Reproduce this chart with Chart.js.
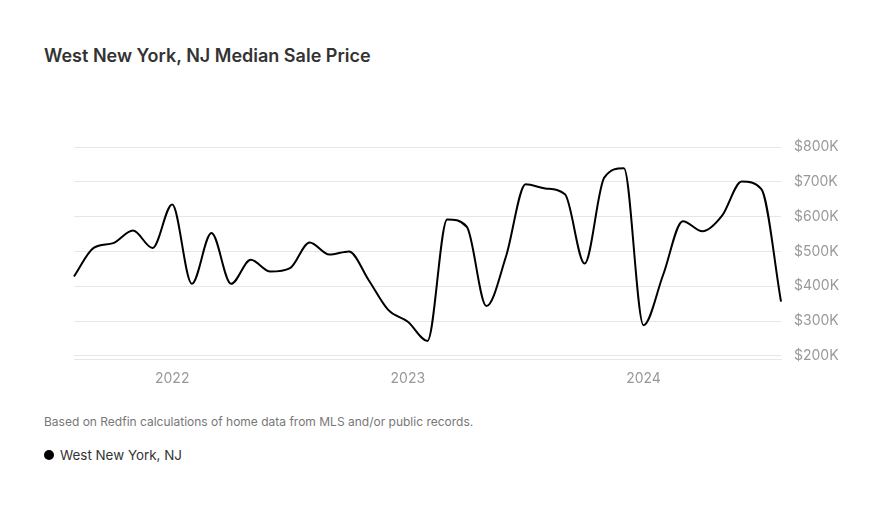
<!DOCTYPE html>
<html>
<head>
<meta charset="utf-8">
<script src="https://cdn.jsdelivr.net/npm/chart.js@4.4.1/dist/chart.umd.min.js"></script>
<style>
  html, body { margin: 0; padding: 0; background: #fff; }
  body { width: 888px; height: 509px; position: relative; overflow: hidden; font-family: "Inter", "Roboto", sans-serif; }
  #title { position: absolute; left: 44px; top: 45px; font-size: 18px; font-weight: 600; color: #333; white-space: nowrap; }
  #note { position: absolute; left: 44px; top: 414px; font-size: 12px; color: #777; white-space: nowrap; }
  #legend { position: absolute; left: 44px; top: 447px; font-size: 13.4px; color: #333; white-space: nowrap; display: flex; align-items: center; }
  #legend .dot { width: 10px; height: 10px; border-radius: 50%; background: #000; margin-right: 6px; }
  #wrap { position: absolute; left: 0; top: 0; width: 888px; height: 509px; }
</style>
</head>
<body>
<div id="title">West New York, NJ Median Sale Price</div>
<div id="note">Based on Redfin calculations of home data from MLS and/or public records.</div>
<div id="legend"><span class="dot"></span><span>West New York, NJ</span></div>
<div id="wrap"><canvas id="c"></canvas></div>
<script>
const months = [
  "2021-08","2021-09","2021-10","2021-11","2021-12",
  "2022-01","2022-02","2022-03","2022-04","2022-05","2022-06","2022-07","2022-08","2022-09","2022-10","2022-11","2022-12",
  "2023-01","2023-02","2023-03","2023-04","2023-05","2023-06","2023-07","2023-08","2023-09","2023-10","2023-11","2023-12",
  "2024-01","2024-02","2024-03","2024-04","2024-05","2024-06","2024-07","2024-08"
];
const seriesName = "West New York, NJ";
const medianSalePrice = [
  428000, 510000, 524000, 560000, 510000,
  635000, 407000, 553000, 407000, 476000, 442000, 452000, 526000, 491000, 500000, 418000, 332000,
  298000, 243000, 592000, 571000, 343000, 486000, 693000, 681000, 664000, 465000, 712000, 739000,
  288000, 433000, 587000, 558000, 603000, 701000, 679000, 356000
];
const yTickValues = [200000, 300000, 400000, 500000, 600000, 700000, 800000];

const ctx = document.getElementById('c');
new Chart(ctx, {
  type: 'line',
  data: {
    labels: months,
    datasets: [{
      label: seriesName,
      data: medianSalePrice,
      borderColor: '#000',
      borderWidth: 2,
      pointRadius: 0,
      pointHoverRadius: 0,
      fill: false,
      cubicInterpolationMode: 'monotone'
    }]
  },
  options: {
    responsive: true,
    maintainAspectRatio: false,
    animation: false,
    layout: { padding: { left: 74, right: 0, top: 147, bottom: 0 } },
    plugins: { legend: { display: false }, tooltip: { enabled: false } },
    scales: {
      x: {
        type: 'category',
        offset: false,
        grid: { display: false, drawTicks: false },
        border: { display: true, color: '#e8e8e8', width: 1 },
        ticks: {
          autoSkip: false,
          maxRotation: 0,
          padding: 11,
          color: '#999',
          font: { family: 'Inter, Roboto, sans-serif', size: 14 },
          callback: function(v, i) {
            const m = months[i];
            return m.endsWith('-01') ? m.slice(0, 4) : '';
          }
        },
        afterFit: function(scale) { scale.height = 150; }
      },
      y: {
        position: 'right',
        min: 191000,
        max: 800000,
        grid: { color: '#e6e6e6', drawTicks: false },
        border: { display: false },
        afterBuildTicks: function(scale) {
          scale.ticks = yTickValues.map(v => ({ value: v }));
        },
        ticks: {
          padding: 13,
          color: '#999',
          font: { family: 'Inter, Roboto, sans-serif', size: 14 },
          callback: function(v) { return '$' + (v / 1000) + 'K'; }
        },
        afterFit: function(scale) { scale.width = 107; }
      }
    }
  }
});
</script>
</body>
</html>
